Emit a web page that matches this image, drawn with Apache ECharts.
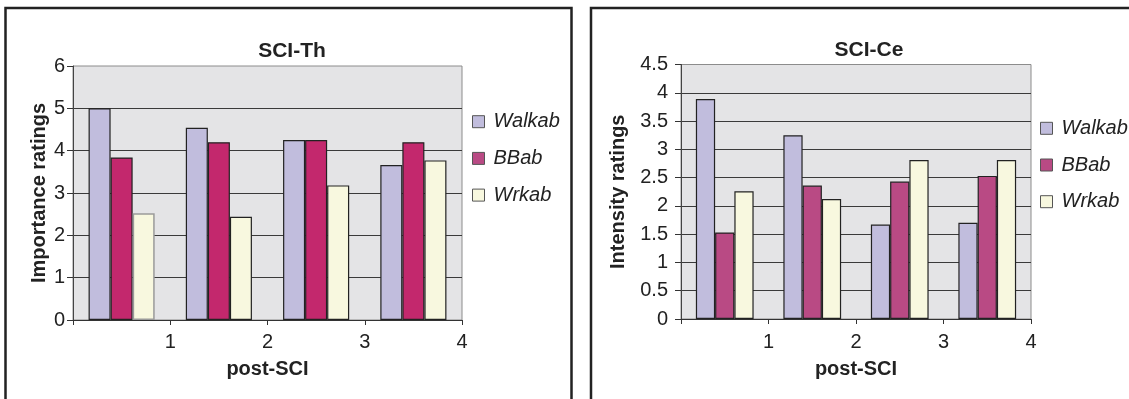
<!DOCTYPE html>
<html>
<head>
<meta charset="utf-8">
<script src="https://cdn.jsdelivr.net/npm/echarts@6/dist/echarts.min.js"></script>
<style>
  html, body { margin: 0; padding: 0; background: #ffffff; }
  #chart { width: 1129px; height: 399px; }
</style>
</head>
<body>
<div id="chart"></div>
<script>
// Post-SCI groups (x axis) and tick labels for the boundary axis
const categories = ['1', '2', '3', '4'];
const xTickLabels = ['', '1', '2', '3', '4'];

// SCI-Th: importance ratings
const thWalkab = [5.0, 4.54, 4.25, 3.66];
const thBBab   = [3.84, 4.2, 4.25, 4.2];
const thWrkab  = [2.52, 2.44, 3.18, 3.77];

// SCI-Ce: intensity ratings
const ceWalkab = [3.89, 3.25, 1.67, 1.70];
const ceBBab   = [1.53, 2.36, 2.43, 2.53];
const ceWrkab  = [2.26, 2.12, 2.81, 2.81];

const FONT = "'Liberation Sans', Arial, Helvetica, sans-serif";
const INK = '#222222';
const COLORS = {
  Walkab: '#c1bddd',
  BBabTh: '#c3286d',
  BBabCe: '#b94a84',
  Wrkab: '#f8f8df'
};

function gridBox(left, top, width, height) {
  return {
    left: left, top: top, width: width, height: height,
    show: true,
    backgroundColor: '#e4e4e6',
    borderColor: '#8c8c8c',
    borderWidth: 1
  };
}

function bandAxis(gridIndex) {
  return {
    type: 'category', gridIndex: gridIndex, position: 'top',
    data: categories,
    axisLine: { show: false }, axisTick: { show: false },
    axisLabel: { show: false }, splitLine: { show: false }
  };
}

function boundaryAxis(gridIndex, labelMargin, nameGap) {
  return {
    type: 'value', gridIndex: gridIndex, position: 'bottom',
    min: 0, max: 4, interval: 1,
    name: 'post-SCI', nameLocation: 'middle', nameGap: nameGap,
    nameTextStyle: { fontFamily: FONT, fontWeight: 'bold', fontSize: 20, color: INK },
    axisLine: { show: true, lineStyle: { color: '#333', width: 1 } },
    axisTick: { show: true, inside: false, length: 5, lineStyle: { color: '#333' } },
    axisLabel: {
      margin: labelMargin, fontFamily: FONT, fontSize: 20, color: INK,
      formatter: v => xTickLabels[v]
    },
    splitLine: { show: false }
  };
}

function ratingAxis(gridIndex, max, interval, name, nameGap, labelMargin) {
  return {
    type: 'value', gridIndex: gridIndex,
    min: 0, max: max, interval: interval,
    name: name, nameLocation: 'middle', nameGap: nameGap,
    nameTextStyle: { fontFamily: FONT, fontWeight: 'bold', fontSize: 20, color: INK },
    axisLine: { show: true, lineStyle: { color: '#444', width: 1 } },
    axisTick: { show: true, inside: false, length: 6, lineStyle: { color: '#333' } },
    axisLabel: { margin: labelMargin, fontFamily: FONT, fontSize: 20, color: INK },
    splitLine: { show: true, showMaxLine: false, lineStyle: { color: '#3a3a3a', width: 1 } }
  };
}

function barSeries(name, data, color, gridIndex, gapPct) {
  return {
    type: 'bar', name: name, data: data,
    xAxisIndex: gridIndex * 2, yAxisIndex: gridIndex,
    barGap: '0%', barCategoryGap: gapPct,
    itemStyle: { color: color, borderColor: '#222', borderWidth: 1.2 },
    emphasis: { disabled: true },
    animation: false
  };
}

function legendBlock(left, top) {
  return {
    orient: 'vertical', left: left, top: top,
    icon: 'rect', itemWidth: 12, itemHeight: 12, itemGap: 16.7,
    textStyle: {
      fontFamily: FONT, fontSize: 20, fontStyle: 'italic', color: INK,
      lineHeight: 20, padding: [0, 0, 0, 4]
    },
    data: [
      { name: 'Walkab', itemStyle: { color: COLORS.Walkab, borderColor: '#555', borderWidth: 1 } },
      { name: 'BBab', itemStyle: { color: COLORS.BBabCe, borderColor: '#555', borderWidth: 1 } },
      { name: 'Wrkab', itemStyle: { color: COLORS.Wrkab, borderColor: '#555', borderWidth: 1 } }
    ],
    selectedMode: false
  };
}

// The first Wrkab bar of SCI-Th is outlined in grey rather than black
const thWrkabItems = thWrkab.map((v, i) =>
  i === 0 ? { value: v, itemStyle: { borderColor: '#9a9a9a', borderWidth: 1.5 } } : v);

const option = {
  backgroundColor: '#ffffff',
  animation: false,
  title: [
    { text: 'SCI-Th', left: 287, top: 36, textAlign: 'center',
      textStyle: { fontFamily: FONT, fontWeight: 'bold', fontSize: 21, color: INK } },
    { text: 'SCI-Ce', left: 864, top: 35, textAlign: 'center',
      textStyle: { fontFamily: FONT, fontWeight: 'bold', fontSize: 21, color: INK } }
  ],
  legend: [legendBlock(467, 106.7), legendBlock(1035, 113.3)],
  grid: [gridBox(73, 66, 389, 254), gridBox(681, 64.5, 350, 254.5)],
  xAxis: [bandAxis(0), boundaryAxis(0, 12, 39), bandAxis(1), boundaryAxis(1, 13, 40)],
  yAxis: [
    ratingAxis(0, 6, 1, 'Importance ratings', 24, 8),
    ratingAxis(1, 4.5, 0.5, 'Intensity ratings', 53, 13)
  ],
  series: [
    barSeries('Walkab', thWalkab, COLORS.Walkab, 0, '32%'),
    barSeries('BBab', thBBab, COLORS.BBabTh, 0, '32%'),
    barSeries('Wrkab', thWrkabItems, COLORS.Wrkab, 0, '32%'),
    barSeries('Walkab', ceWalkab, COLORS.Walkab, 1, '34%'),
    barSeries('BBab', ceBBab, COLORS.BBabCe, 1, '34%'),
    barSeries('Wrkab', ceWrkab, COLORS.Wrkab, 1, '34%')
  ],
  graphic: [
    { type: 'rect', silent: true, z: 100,
      shape: { x: 5.5, y: 8, width: 566, height: 420 },
      style: { fill: 'none', stroke: '#222', lineWidth: 2.5 } },
    { type: 'rect', silent: true, z: 100,
      shape: { x: 591, y: 8, width: 560, height: 420 },
      style: { fill: 'none', stroke: '#222', lineWidth: 2.5 } }
  ]
};

const chart = echarts.init(document.getElementById('chart'), null, { renderer: 'canvas' });
chart.setOption(option);
</script>
</body>
</html>
